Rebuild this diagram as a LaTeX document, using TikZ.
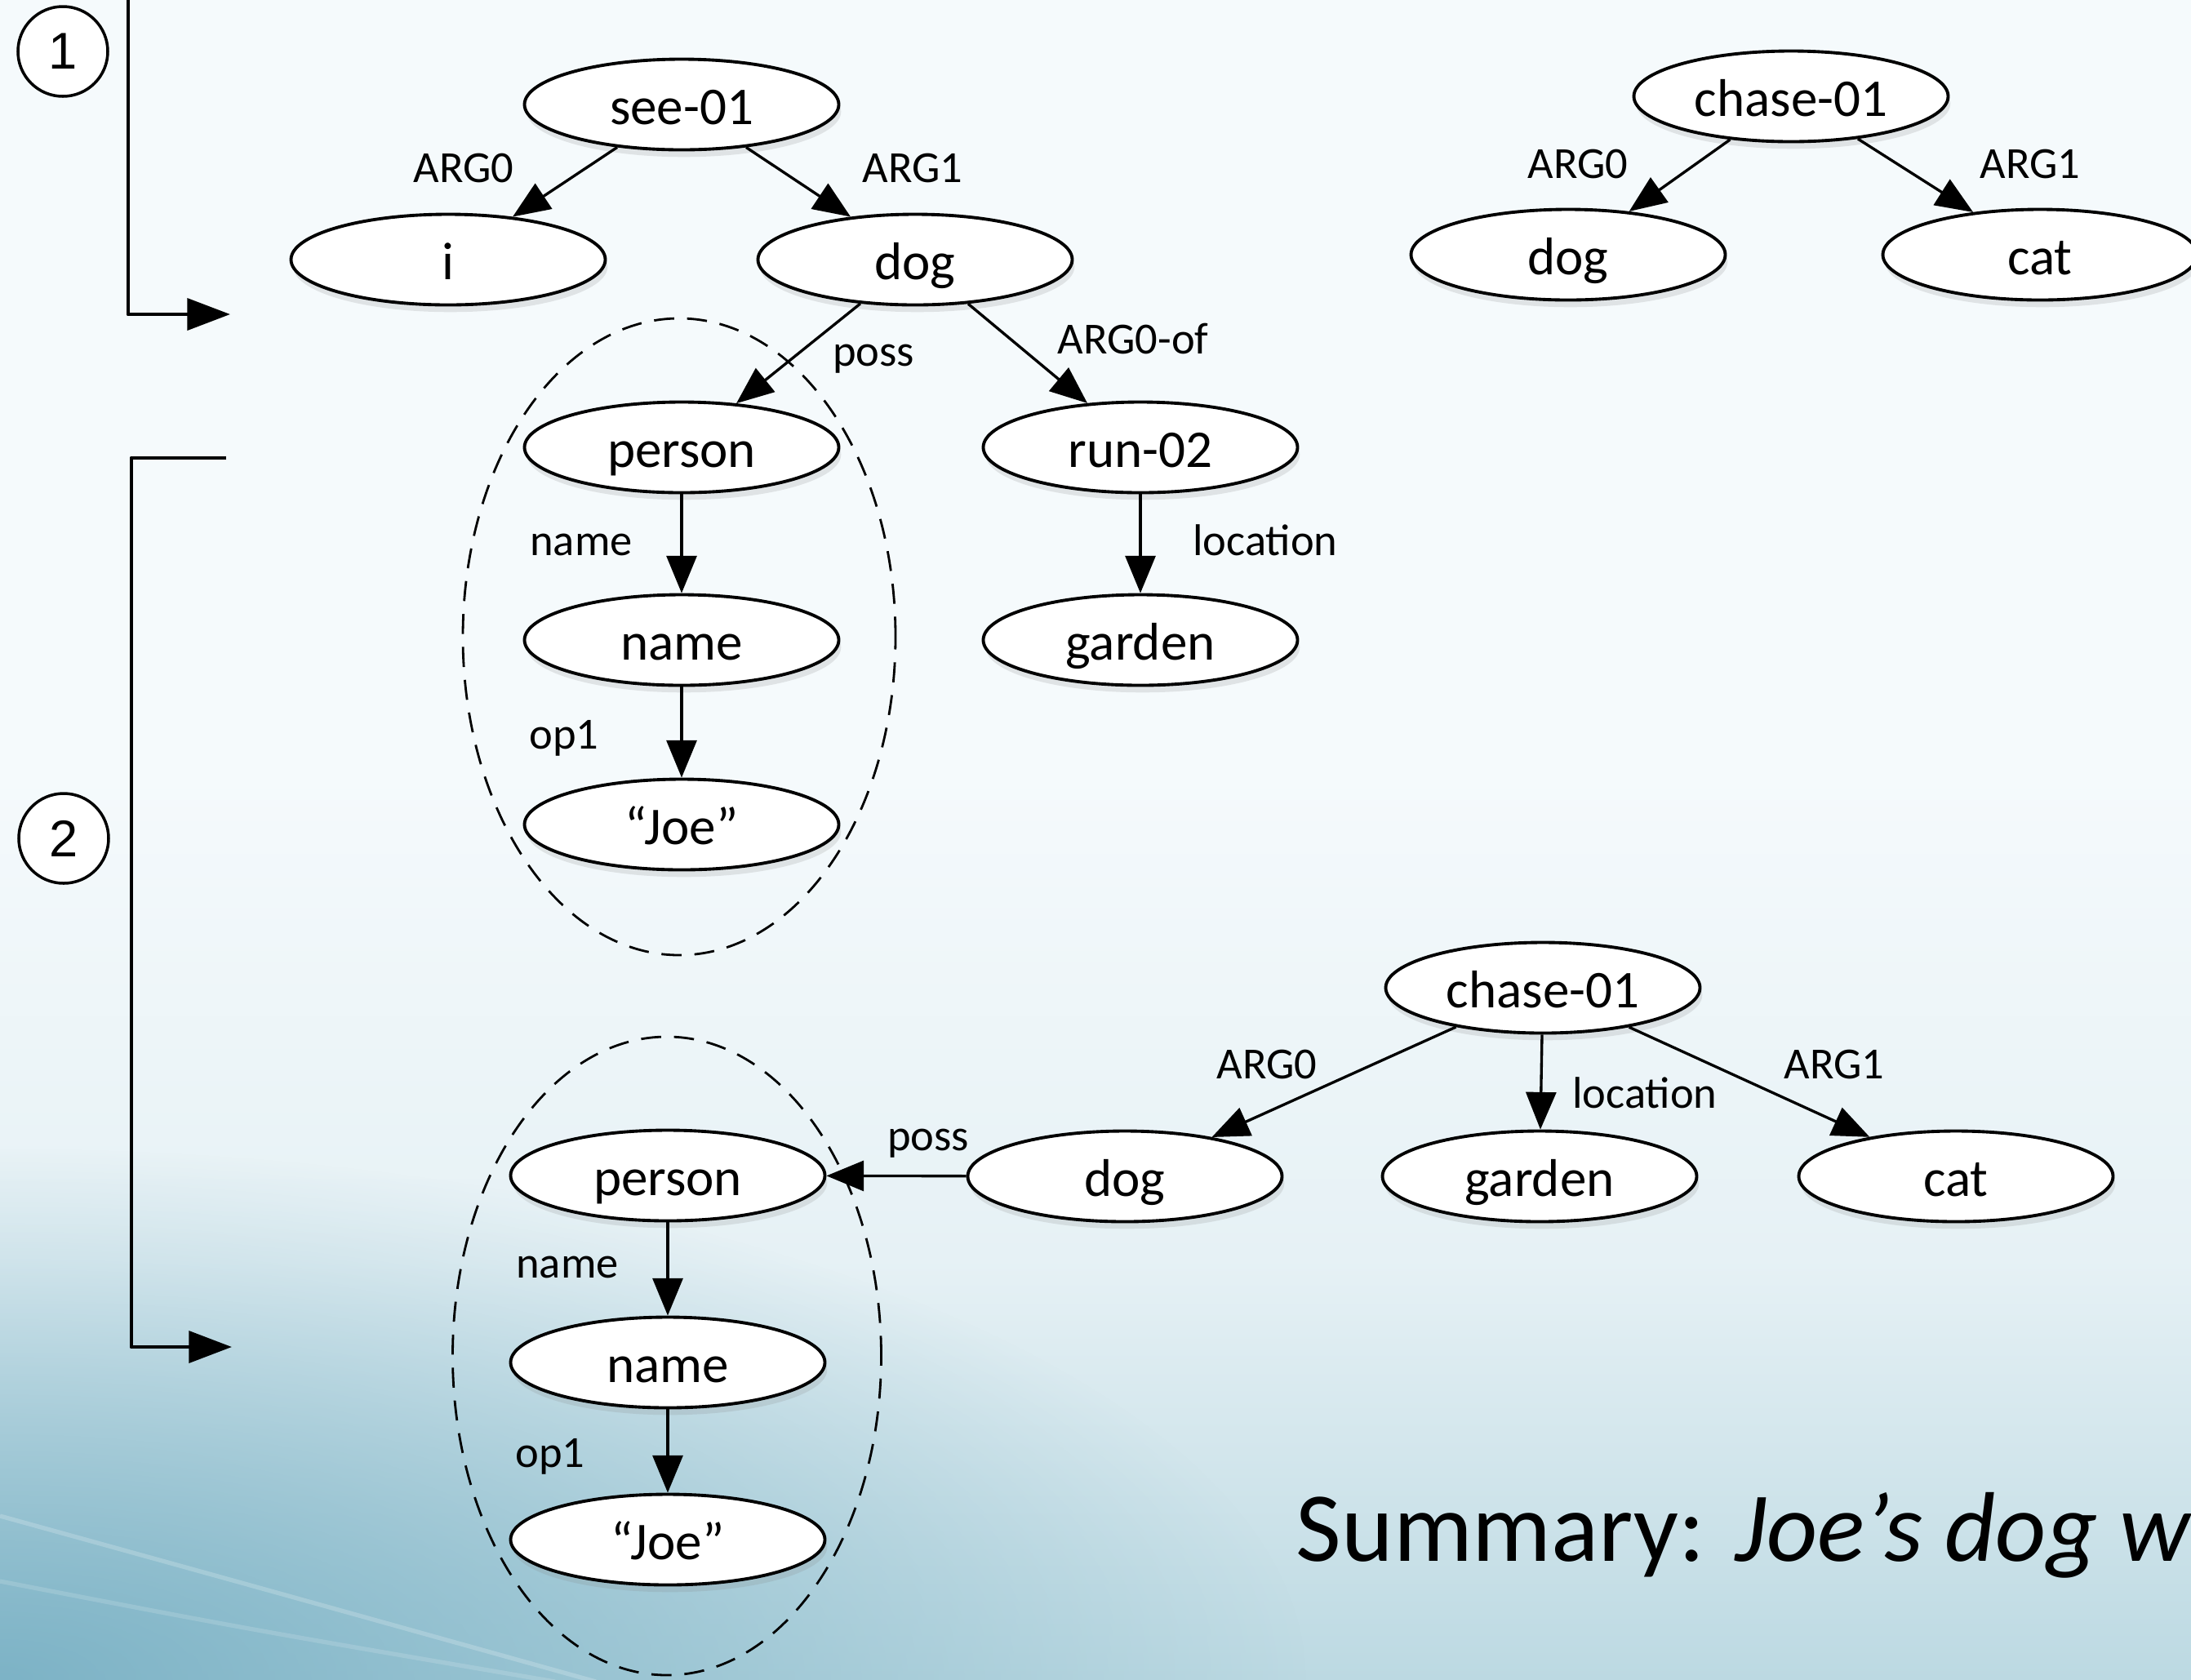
\documentclass[tikz,border=0pt]{standalone}
\usepackage{fontspec}
\setmainfont{Carlito}
\newfontfamily\digitfont{Liberation Sans}
\usetikzlibrary{arrows.meta,shapes.geometric,shadows,fadings}

\definecolor{bgtop}{HTML}{F5FAFC}
\definecolor{bgmid}{HTML}{E6F1F5}
\definecolor{bgbot}{HTML}{BCD9E2}
\definecolor{bgdark}{HTML}{7DB3C6}

\pgfdeclareverticalshading{slidebg}{100bp}{color(0bp)=(bgbot); color(25bp)=(bgbot);
  color(37.5bp)=(bgmid); color(52bp)=(bgtop); color(100bp)=(bgtop)}
\tikzfading[name=cornerfade, inner color=transparent!0, outer color=transparent!100]

\tikzset{
  amr/.style={ellipse, draw, fill=white, line width=1.1pt, minimum width=3.85cm, minimum height=1.11cm,
    inner sep=0pt, text height=16.5pt, text depth=2.5pt, font=\fontsize{18.5}{22}\selectfont,
    drop shadow={opacity=0.18, shadow xshift=0.8pt, shadow yshift=-2.5pt}},
  rel/.style={inner sep=0pt, anchor=base, font=\fontsize{15.5}{18}\selectfont},
  relarrow/.style={-{Triangle[length=13pt,width=10.5pt]}, line width=0.95pt},
  stepmark/.style={circle, draw, fill=white, line width=1pt, minimum size=1.1cm, inner sep=0pt,
    font=\digitfont\fontsize{18}{20}\selectfont},
  bracket/.style={-{Triangle[length=15pt,width=11pt]}, line width=1.4pt, line join=round},
  group/.style={ellipse, draw, dash pattern=on 7pt off 4.5pt, line width=0.8pt, inner sep=0pt}
}

\begin{document}
\begin{tikzpicture}
\useasboundingbox (0,0) rectangle (26.84,-20.57);
\clip (0,0) rectangle (26.84,-20.57);
\shade[shading=slidebg] (0,0) rectangle (26.84,-20.57);
\fill[bgdark, path fading=cornerfade] (0,-20.57) ellipse [x radius=16, y radius=6.5];
\draw[white, opacity=0.2, line width=1.5pt] (0,-18.57) .. controls (3,-19.4) .. (7.3,-20.6);
\draw[white, opacity=0.15, line width=1.5pt] (0,-19.37) .. controls (3,-19.95) .. (6.8,-20.6);

% step 1 and step 2
\node[stepmark] (s1) at (0.77,-0.63) {1};
\node[stepmark] (s2) at (0.78,-10.27) {2};
\coordinate (b1top) at (1.57,0.2);
\coordinate (b1end) at (2.82,-3.85);
\coordinate (b2top) at (2.77,-5.61);
\coordinate (b2end) at (2.84,-16.50);
\draw[bracket] (b1top) |- (b1end);
\draw[bracket] (b2top) -- (1.61,-5.61) |- (b2end);

% see-01 graph
\node[group, minimum width=5.3cm, minimum height=7.8cm] (grp1) at (8.32,-7.80) {};
\node[amr] (see01) at (8.35,-1.28) {see-01};
\node[amr] (i) at (5.49,-3.18) {i};
\node[amr] (dog1) at (11.21,-3.18) {dog};
\node[amr] (person1) at (8.35,-5.48) {person};
\node[amr] (run02) at (13.97,-5.48) {run-02};
\node[amr] (name1) at (8.35,-7.84) {name};
\node[amr] (garden1) at (13.97,-7.84) {garden};
\node[amr] (joe1) at (8.35,-10.10) {“Joe”};
\draw[relarrow] (see01) -- (i);
\draw[relarrow] (see01) -- (dog1);
\draw[relarrow] (dog1) -- (person1);
\draw[relarrow] (dog1) -- (run02);
\draw[relarrow] (person1) -- (name1);
\draw[relarrow] (name1) -- (joe1);
\draw[relarrow] (run02) -- (garden1);
\node[rel] (l-arg0a) at (5.68,-2.23) {ARG0};
\node[rel] (l-arg1a) at (11.18,-2.23) {ARG1};
\node[rel] (l-possa) at (10.70,-4.48) {poss};
\node[rel] (l-arg0of) at (13.88,-4.33) {ARG0-of};
\node[rel] (l-namea) at (7.12,-6.80) {name};
\node[rel] (l-op1a) at (6.91,-9.17) {op1};
\node[rel] (l-loca) at (15.50,-6.80) {location};

% chase-01 graph
\node[amr] (chase1) at (21.94,-1.18) {chase-01};
\node[amr] (dog3) at (19.21,-3.12) {dog};
\node[amr] (cat3) at (24.99,-3.12) {cat};
\draw[relarrow] (chase1) -- (dog3);
\draw[relarrow] (chase1) -- (cat3);
\node[rel] (l-arg0b) at (19.33,-2.18) {ARG0};
\node[rel] (l-arg1b) at (24.87,-2.18) {ARG1};

% merged graph
\node[group, minimum width=5.25cm, minimum height=7.82cm] (grp2) at (8.17,-16.61) {};
\node[amr] (chase2) at (18.90,-12.10) {chase-01};
\node[amr] (dog2) at (13.78,-14.41) {dog};
\node[amr] (garden2) at (18.86,-14.41) {garden};
\node[amr] (cat2) at (23.96,-14.41) {cat};
\node[amr] (person2) at (8.18,-14.40) {person};
\node[amr] (name2) at (8.18,-16.69) {name};
\node[amr] (joe2) at (8.18,-18.86) {“Joe”};
\draw[relarrow] (chase2) -- (dog2);
\draw[relarrow] (chase2) -- (garden2);
\draw[relarrow] (chase2) -- (cat2);
\draw[relarrow] (dog2) -- (person2);
\draw[relarrow] (person2) -- (name2);
\draw[relarrow] (name2) -- (joe2);
\node[rel] (l-arg0c) at (15.52,-13.21) {ARG0};
\node[rel] (l-locb) at (20.15,-13.57) {location};
\node[rel] (l-arg1c) at (22.47,-13.21) {ARG1};
\node[rel] (l-possb) at (11.37,-14.09) {poss};
\node[rel] (l-nameb) at (6.95,-15.65) {name};
\node[rel] (l-op1b) at (6.74,-17.97) {op1};

\node[anchor=base west, inner sep=0pt, font=\fontsize{34.5}{40}\selectfont] (summary) at (15.87,-19.12)
  {Summary: \textit{Joe’s dog wa}};
\end{tikzpicture}
\end{document}
